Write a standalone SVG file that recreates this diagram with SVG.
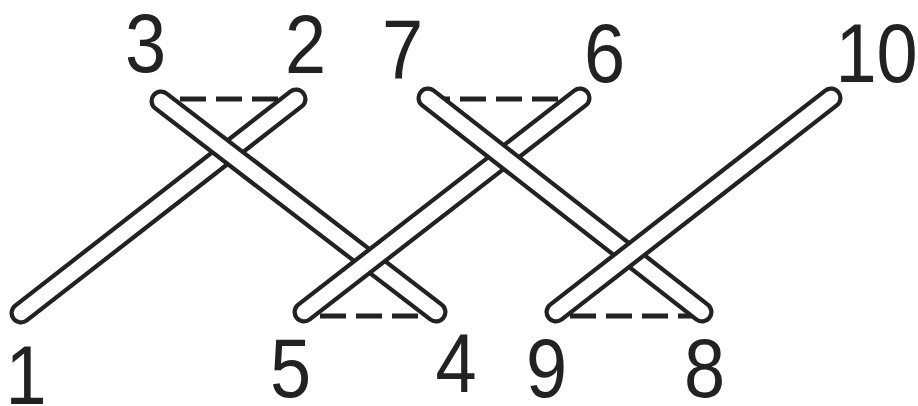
<svg xmlns="http://www.w3.org/2000/svg" width="918" height="406" viewBox="0 0 918 406">
<style>
.bo{stroke:#222;stroke-width:23;stroke-linecap:round;fill:none}
.bi{stroke:#fff;stroke-width:14.5;stroke-linecap:round;fill:none}
.dash{stroke:#222;stroke-width:5;stroke-dasharray:26 10;fill:none}
.lbl{font-family:"Liberation Sans",Arial,sans-serif;font-size:84px;fill:#222;text-anchor:middle}
</style>
<rect width="918" height="406" fill="#fff"/>
<g id="connectors">
<line class="dash" x1="161" y1="99" x2="296" y2="99" stroke-dashoffset="17"/>
<line class="dash" x1="428" y1="99" x2="580" y2="99" stroke-dashoffset="4"/>
<line class="dash" x1="304" y1="316" x2="436" y2="316" stroke-dashoffset="20"/>
<line class="dash" x1="556" y1="316" x2="702" y2="316" stroke-dashoffset="22"/>
</g>
<g id="bar-1-2">
<line class="bo" x1="21" y1="313" x2="296" y2="99"/>
<line class="bi" x1="21" y1="313" x2="296" y2="99"/>
<text class="lbl" transform="translate(26,404) scale(0.88,1)">1</text>
<text class="lbl" transform="translate(305.5,73) scale(0.88,1)">2</text>
</g>
<g id="bar-3-4">
<line class="bo" x1="161" y1="101" x2="436" y2="312"/>
<line class="bi" x1="161" y1="101" x2="436" y2="312"/>
<text class="lbl" transform="translate(145.5,72) scale(0.88,1)">3</text>
<text class="lbl" transform="translate(456,392) scale(0.88,1)">4</text>
</g>
<g id="bar-5-6">
<line class="bo" x1="304" y1="312" x2="580" y2="98"/>
<line class="bi" x1="304" y1="312" x2="580" y2="98"/>
<text class="lbl" transform="translate(290.5,397) scale(0.88,1)">5</text>
<text class="lbl" transform="translate(604.5,82) scale(0.88,1)">6</text>
</g>
<g id="bar-7-8">
<line class="bo" x1="428" y1="98" x2="702" y2="312"/>
<line class="bi" x1="428" y1="98" x2="702" y2="312"/>
<text class="lbl" transform="translate(402.5,78) scale(0.88,1)">7</text>
<text class="lbl" transform="translate(704.5,397) scale(0.88,1)">8</text>
</g>
<g id="bar-9-10">
<line class="bo" x1="556" y1="312" x2="831" y2="98"/>
<line class="bi" x1="556" y1="312" x2="831" y2="98"/>
<text class="lbl" transform="translate(546.5,397) scale(0.88,1)">9</text>
<text class="lbl" transform="translate(876.5,82) scale(0.88,1)">10</text>
</g>
</svg>
